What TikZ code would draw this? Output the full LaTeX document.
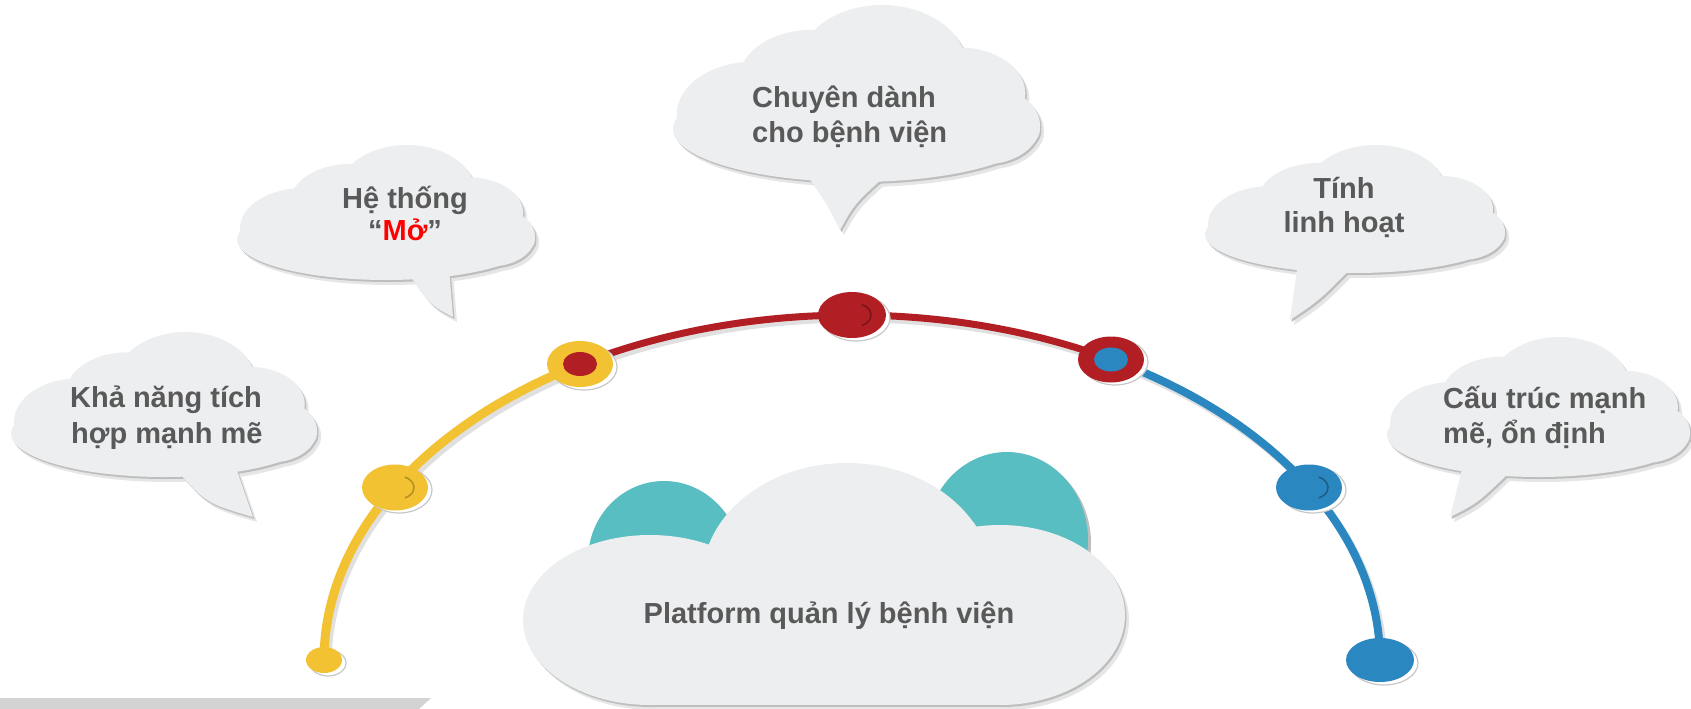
\documentclass[tikz,border=0pt]{standalone}
\usepackage{fontspec}
\setmainfont{Liberation Sans}
\usetikzlibrary{shapes.geometric}
\definecolor{cyel}{HTML}{F2C232}
\definecolor{cred}{HTML}{B11E24}
\definecolor{cblue}{HTML}{2A87C0}
\definecolor{cteal}{HTML}{58BEC1}
\definecolor{cfill}{HTML}{ECEEEF}
\definecolor{ctext}{HTML}{595959}
\definecolor{cbar}{HTML}{D3D3D3}
\definecolor{cshadow}{HTML}{BEBEBE}
\definecolor{cshadowsoft}{HTML}{E6E6E6}
\definecolor{cmo}{HTML}{FF0000}

\newcommand{\cloudbody}[5]{%
  \begin{scope}[shift={(#1,#2)}, xscale=#3, yscale=#4]
    \fill[#5] (0.5,0.70) ellipse [x radius=0.5, y radius=0.30]
              (0.22,0.62) ellipse [x radius=0.21, y radius=0.30]
              (0.38,0.42) ellipse [x radius=0.2, y radius=0.28]
              (0.57,0.35) ellipse [x radius=0.23, y radius=0.35]
              (0.78,0.50) ellipse [x radius=0.18, y radius=0.26]
              (0.85,0.68) ellipse [x radius=0.15, y radius=0.22];
  \end{scope}}
\newcommand{\bubble}[5]{%
  \begin{scope}[shift={(4,5)}]
    \cloudbody{#1}{#2}{#3}{#4}{cshadowsoft}
    \fill[cshadowsoft] #5;
  \end{scope}
  \begin{scope}[shift={(1.5,2)}]
    \cloudbody{#1}{#2}{#3}{#4}{cshadow}
    \fill[cshadow] #5;
  \end{scope}
  \cloudbody{#1}{#2}{#3}{#4}{cfill}
  \fill[cfill] #5;}
\newcommand{\mainbody}[1]{%
  \fill[#1] (650,620) ellipse [x radius=127, y radius=85]
            (1000,615) ellipse [x radius=125, y radius=90]
            (847,580) ellipse [x radius=145, y radius=117];
  \fill[#1] (650,560) rectangle (1000,705);}
\newcommand{\arcplot}[2]{plot[domain=#1:#2, samples=70] ({852+528*cos(\x)},{660-345*sin(\x)})}

\begin{document}
\begin{tikzpicture}[x=1pt,y=-1pt,
  lbl/.style={font=\bfseries\fontsize{29}{35}\selectfont, text=ctext, inner sep=0},
  dotnode/.style={ellipse, inner sep=0, draw=none},
  dotshadow/.style={fill=white, draw=black!22, line width=1.2},
  lineshadow/.style={draw=black!30, opacity=0.4, line cap=round},
  crescent/.style={line width=1.6}]
\useasboundingbox (0,0) rectangle (1691,709);

% bottom bar
\fill[cbar] (0,698) -- (431,698) -- (419,709) -- (0,709) -- cycle;

% main cloud with teal bumps
\fill[cshadow] (666,562) ellipse [x radius=76, y radius=79];
\fill[cshadow] (1010,543) ellipse [x radius=81, y radius=88];
\fill[cteal] (664,560) ellipse [x radius=76, y radius=79];
\fill[cteal] (1007,540) ellipse [x radius=81, y radius=88];
\begin{scope}[shift={(4,5)}]\mainbody{cshadowsoft}\end{scope}
\begin{scope}[shift={(1.5,2)}]\mainbody{cshadow}\end{scope}
\mainbody{cfill}
\node[lbl, anchor=base] (main) at (829,623) {Platform quản lý bệnh viện};

% speech clouds
\bubble{11}{332}{306}{145}{(170,462) .. controls (205,503) .. (253,517) -- (234,462) -- cycle}
\bubble{237}{145}{298}{135}{(405,268) .. controls (430,305) .. (453,317) -- (449,268) -- cycle}
\bubble{673}{5}{367}{177}{(803,170) .. controls (825,200) .. (840,230) .. controls (855,203) .. (892,170) -- cycle}
\bubble{1205}{145}{300}{128}{(1298,262) -- (1290,320) .. controls (1320,300) .. (1357,262) -- cycle}
\bubble{1387}{337}{303}{140}{(1463,465) -- (1450,517) .. controls (1478,503) .. (1517,465) -- cycle}

\node[lbl, anchor=base west] (t1a) at (70,407) {Khả năng tích};
\node[lbl, anchor=base west] (t1b) at (71,443) {hợp mạnh mẽ};
\node[lbl, anchor=base] (t2a) at (405,208) {Hệ thống};
\node[lbl, anchor=base] (t2b) at (405,240) {“\textcolor{cmo}{Mở}”};
\node[lbl, anchor=base west] (t3a) at (752,107) {Chuyên dành};
\node[lbl, anchor=base west] (t3b) at (752,142) {cho bệnh viện};
\node[lbl, anchor=base] (t4a) at (1344,198) {Tính};
\node[lbl, anchor=base] (t4b) at (1344,232) {linh hoạt};
\node[lbl, anchor=base west] (t5a) at (1443,408) {Cấu trúc mạnh};
\node[lbl, anchor=base west] (t5b) at (1443,443) {mẽ, ổn định};

% arc shadows
\begin{scope}[shift={(3,4)}]
  \draw[lineshadow, line width=9] \arcplot{180}{121};
  \draw[lineshadow, line width=7] \arcplot{121}{60.6};
  \draw[lineshadow, line width=8] \arcplot{60.6}{0};
\end{scope}
% arcs
\draw[cyel, line width=9, line cap=round] \arcplot{180}{121};
\draw[cred, line width=7, line cap=round] \arcplot{121}{60.6};
\draw[cblue, line width=8, line cap=round] \arcplot{60.6}{0};

% dot shadows
\draw[dotshadow] (328,663) ellipse [x radius=18, y radius=13];
\draw[dotshadow] (399,490) ellipse [x radius=33, y radius=23];
\draw[dotshadow] (584,367) ellipse [x radius=33, y radius=23];
\draw[dotshadow] (856,318) ellipse [x radius=34, y radius=23];
\draw[dotshadow] (1115,362) ellipse [x radius=33, y radius=23];
\draw[dotshadow] (1313,490) ellipse [x radius=33, y radius=23];
\draw[dotshadow] (1384,663) ellipse [x radius=34, y radius=22];

% dots
\node[dotnode, fill=cyel, minimum width=36, minimum height=26] (Yend) at (324,660) {};
\node[dotnode, fill=cyel, minimum width=66, minimum height=46] (Y2) at (395,487.5) {};
\node[dotnode, fill=cyel, minimum width=66, minimum height=46] (YR) at (580,364) {};
\node[dotnode, fill=cred, minimum width=34, minimum height=24] (YRi) at (580,364) {};
\node[dotnode, fill=cred, minimum width=68, minimum height=46] (Rtop) at (852,315) {};
\node[dotnode, fill=cred, minimum width=66, minimum height=46] (RB) at (1111,359.5) {};
\node[dotnode, fill=cblue, minimum width=34, minimum height=24] (RBi) at (1111,359.5) {};
\node[dotnode, fill=cblue, minimum width=66, minimum height=46] (B2) at (1309,487.5) {};
\node[dotnode, fill=cblue, minimum width=68, minimum height=44] (Bend) at (1380,660) {};

% inner crescents
\draw[crescent, draw=cyel!75!black] ([xshift=5pt]Y2.center) ++(-70:14 and 11) arc[start angle=-70, end angle=70, x radius=14, y radius=11];
\draw[crescent, draw=cred!70!black] ([xshift=5pt]Rtop.center) ++(-70:14 and 11) arc[start angle=-70, end angle=70, x radius=14, y radius=11];
\draw[crescent, draw=cblue!70!black] ([xshift=5pt]B2.center) ++(-70:14 and 11) arc[start angle=-70, end angle=70, x radius=14, y radius=11];
\end{tikzpicture}
\end{document}
